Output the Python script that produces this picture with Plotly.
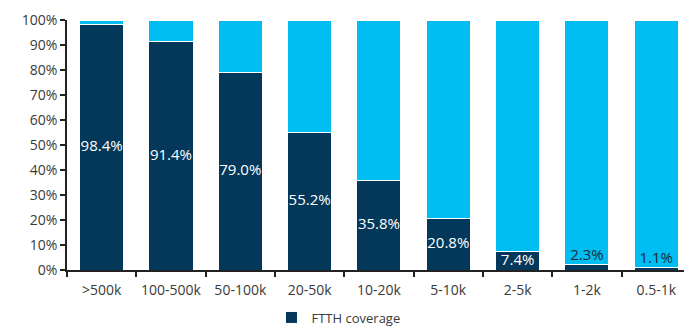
import plotly.graph_objects as go

categories = [">500k", "100-500k", "50-100k", "20-50k", "10-20k", "5-10k", "2-5k", "1-2k", "0.5-1k"]
ftth = [98.4, 91.4, 79.0, 55.2, 35.8, 20.8, 7.4, 2.3, 1.1]
rest = [round(100 - v, 1) for v in ftth]
labels = [f"{v:.1f}%" for v in ftth]
y_ticks = list(range(0, 101, 10))

DARK = "#03385a"
LIGHT = "#00bef2"
FONT = "Open Sans"

fig = go.Figure()
fig.add_trace(go.Bar(x=categories, y=ftth, name="FTTH coverage", marker=dict(color=DARK, line=dict(color="white", width=1)),
                     hoverinfo="skip"))
fig.add_trace(go.Bar(x=categories, y=rest, name="Other", showlegend=False,
                     marker=dict(color=LIGHT, line=dict(color="white", width=1)), hoverinfo="skip"))

# label positions derived from data: centred inside large bars, just above small ones
lab_y = [v / 2 if v > 5 else v + 3.2 for v in ftth]
lab_c = ["white" if v > 5 else "#1a2a3a" for v in ftth]
fig.add_trace(go.Scatter(x=categories, y=lab_y, text=labels, mode="text", showlegend=False,
                         textfont=dict(color=lab_c, size=15, family=FONT), hoverinfo="skip"))

fig.update_layout(
    width=684, height=327,
    margin=dict(l=67, r=0, t=20, b=57, autoexpand=False),
    barmode="stack", bargap=0.365,
    plot_bgcolor="white", paper_bgcolor="white",
    font=dict(family=FONT, size=14, color="#3a3a3a"),
    showlegend=True,
    legend=dict(orientation="h", x=0.44, xanchor="center", y=-0.19, yanchor="middle",
                font=dict(size=13, color="#3a3a3a"), itemwidth=30),
)
fig.update_xaxes(type="category", range=[-0.5, 8.4], showline=True, linecolor="#222", linewidth=1.5,
                 ticks="outside", ticklen=5, tickcolor="#222", tickwidth=1.5, tickson="boundaries",
                 showgrid=False, ticklabelstandoff=6, tickangle=0, automargin=False)
fig.update_yaxes(range=[0, 100], tickvals=y_ticks, ticktext=[f"{t}%" for t in y_ticks],
                 showline=True, linecolor="#222", linewidth=1.5, ticks="outside", ticklen=5,
                 tickcolor="#222", tickwidth=1.5, showgrid=False, zeroline=False, automargin=False)

fig.write_html("out.html")
